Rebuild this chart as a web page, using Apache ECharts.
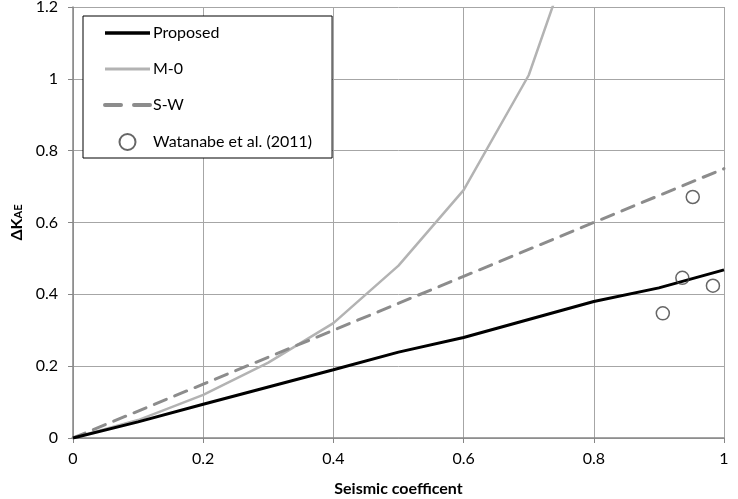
<!DOCTYPE html>
<html style="height: 100%">
<head>
<meta charset="utf-8">
</head>
<body style="height: 100%; margin: 0; background: #fff">
<div id="container" style="width: 738px; height: 499px;"></div>
<script type="text/javascript" src="https://cdn.jsdelivr.net/npm/echarts@6/dist/echarts.min.js"></script>
<script type="text/javascript">
// values
var proposed = [[0, 0], [0.1, 0.045], [0.2, 0.094], [0.3, 0.142], [0.4, 0.19], [0.5, 0.239], [0.6, 0.28], [0.7, 0.33], [0.8, 0.38], [0.9, 0.418], [1.0, 0.468]];
var m0 = [[0, 0], [0.1, 0.05], [0.2, 0.12], [0.3, 0.21], [0.4, 0.32], [0.5, 0.48], [0.6, 0.69], [0.7, 1.01], [0.8, 1.53]];
var sw = [[0, 0], [0.2, 0.15], [0.4, 0.3], [0.6, 0.45], [0.8, 0.6], [1.0, 0.75]];
var watanabe = [[0.906, 0.347], [0.936, 0.446], [0.952, 0.671], [0.983, 0.424]];

var FONT = 'Lato';
var dom = document.getElementById('container');
var myChart = echarts.init(dom);

var noMarker = { opacity: 0 };

var option = {
    backgroundColor: '#fff',
    animation: false,
    textStyle: { fontFamily: FONT },
    grid: { left: 73, right: 14, top: 7, bottom: 61, containLabel: false, outerBoundsMode: 'none' },
    legend: {
        orient: 'vertical',
        left: 83,
        top: 16,
        padding: [9, 20, 7, 20],
        borderColor: '#000',
        borderWidth: 1,
        backgroundColor: '#fff',
        itemWidth: 45,
        itemHeight: 16,
        itemGap: 20,
        textStyle: { fontFamily: FONT, fontSize: 16, color: '#000', padding: [0, 0, 0, -2] },
        data: [
            { name: 'Proposed', itemStyle: noMarker, lineStyle: { width: 3.5 } },
            { name: 'M-0', itemStyle: noMarker, lineStyle: { width: 3 } },
            { name: 'S-W', itemStyle: noMarker, lineStyle: { width: 4, type: [16, 13] } },
            { name: 'Watanabe et al. (2011)' }
        ]
    },
    xAxis: {
        type: 'value',
        min: 0,
        max: 1,
        interval: 0.2,
        name: 'Seismic coefficent',
        nameLocation: 'middle',
        nameGap: 43,
        nameTextStyle: { fontFamily: FONT, fontSize: 16, fontWeight: 'bold', color: '#000' },
        axisLine: { lineStyle: { color: '#868686', width: 1.5 } },
        axisTick: { show: true, length: 5, lineStyle: { color: '#868686' } },
        axisLabel: { fontFamily: FONT, fontSize: 16, color: '#000', margin: 13 },
        splitLine: { show: true, lineStyle: { color: '#a6a6a6', width: 1 } }
    },
    yAxis: {
        type: 'value',
        min: 0,
        max: 1.2,
        interval: 0.2,
        name: '{a|ΔK}{b|AE}',
        nameLocation: 'middle',
        nameGap: 47,
        nameRotate: 90,
        nameTextStyle: {
            fontFamily: FONT,
            color: '#000',
            rich: {
                a: { fontSize: 16, fontWeight: 'bold', fontFamily: FONT, color: '#000' },
                b: { fontSize: 11, fontWeight: 'bold', fontFamily: FONT, color: '#000', padding: [4, 0, 0, 0] }
            }
        },
        axisLine: { show: true, lineStyle: { color: '#868686', width: 1.5 } },
        axisTick: { show: true, length: 5, lineStyle: { color: '#868686' } },
        axisLabel: { fontFamily: FONT, fontSize: 16, color: '#000', margin: 15 },
        splitLine: { show: true, lineStyle: { color: '#a6a6a6', width: 1 } }
    },
    series: [
        {
            name: 'Proposed',
            type: 'line',
            data: proposed,
            showSymbol: false,
            symbol: 'none',
            color: '#000',
            lineStyle: { color: '#000', width: 3 },
            z: 4
        },
        {
            name: 'M-0',
            type: 'line',
            data: m0,
            showSymbol: false,
            symbol: 'none',
            color: '#b3b3b3',
            clip: true,
            lineStyle: { color: '#b3b3b3', width: 2.5 },
            z: 3
        },
        {
            name: 'S-W',
            type: 'line',
            data: sw,
            showSymbol: false,
            symbol: 'none',
            color: '#8c8c8c',
            lineStyle: { color: '#8c8c8c', width: 3, type: [13, 9], cap: 'round' },
            z: 3
        },
        {
            name: 'Watanabe et al. (2011)',
            type: 'scatter',
            data: watanabe,
            symbol: 'circle',
            symbolSize: 13,
            itemStyle: { color: 'rgba(255,255,255,0)', borderColor: '#404040', borderWidth: 1.5 },
            z: 5
        }
    ]
};

myChart.setOption(option);
</script>
</body>
</html>
